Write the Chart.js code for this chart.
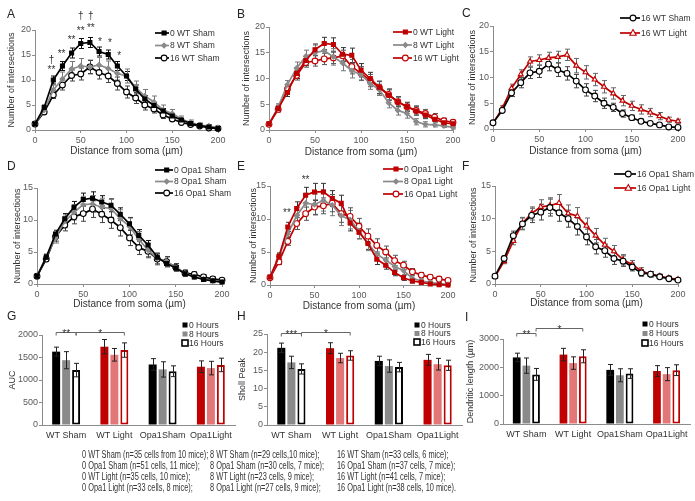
<!DOCTYPE html>
<html>
<head>
<meta charset="utf-8">
<script src="https://cdn.jsdelivr.net/npm/chart.js@4"></script>
<style>
body { margin: 0; background: #fff; }
#fig { position: relative; width: 695px; height: 501px; overflow: hidden; font-family: "Liberation Sans", Arial, sans-serif; }
#fig canvas { position: absolute; }
.lbl { position: absolute; font-size: 12px; line-height: 1; color: #222; }
#notes { position: absolute; left: 0; top: 440px; width: 695px; height: 61px; will-change: transform; }
.note { position: absolute; line-height: 1; color: #333; white-space: nowrap; }
</style>
</head>
<body>
<div id="fig"><div id="notes"></div></div>
<script>
// x values of the Sholl curves (µm)
const distance = [0, 10, 20, 30, 40, 50, 60, 70, 80, 90, 100, 110, 120, 130, 140, 150, 160, 170, 180, 190, 200];

// WT sham
const wtSham0 = [1.2, 4.5, 10.0, 12.8, 15.4, 17.3, 17.5, 15.7, 15.1, 12.8, 10.8, 8.2, 6.2, 4.9, 3.8, 2.8, 2.0, 1.3, 0.9, 0.6, 0.3];
const wtSham0Err = [0.2, 0.5, 0.8, 0.9, 1.0, 1.0, 1.0, 0.9, 0.9, 0.9, 0.9, 0.8, 0.7, 0.6, 0.5, 0.4, 0.3, 0.3, 0.2, 0.2, 0.1];
const wtSham8 = [1.2, 4.0, 8.0, 10.2, 12.2, 12.8, 12.6, 13.0, 12.3, 11.3, 10.8, 8.5, 6.8, 5.6, 4.0, 3.3, 2.2, 1.5, 1.0, 0.8, 0.5];
const wtSham8Err = [0.2, 0.6, 1.0, 1.4, 1.5, 1.5, 1.4, 1.5, 1.5, 1.3, 1.4, 1.3, 1.3, 1.2, 1.0, 0.8, 0.6, 0.5, 0.4, 0.3, 0.2];
const wtSham16 = [1.2, 3.6, 7.0, 9.0, 10.9, 11.2, 12.6, 11.5, 10.8, 9.3, 7.6, 6.4, 5.0, 4.2, 3.0, 2.2, 1.5, 1.1, 0.8, 0.4, 0.3];
const wtSham16Err = [0.2, 0.4, 0.7, 1.0, 1.1, 1.2, 1.3, 1.3, 1.3, 1.3, 1.2, 1.1, 1.0, 0.8, 0.7, 0.5, 0.4, 0.3, 0.2, 0.2, 0.1];

// WT light
const wtLight0 = [1.2, 4.2, 7.3, 11.0, 13.5, 15.6, 16.8, 16.6, 14.7, 14.5, 11.6, 10.0, 8.3, 6.8, 5.5, 4.5, 3.7, 2.9, 2.1, 1.4, 1.2];
const wtLight0Err = [0.2, 0.6, 0.8, 1.0, 1.0, 1.1, 1.2, 1.3, 1.3, 1.4, 1.3, 1.2, 1.2, 1.0, 0.9, 0.8, 0.8, 0.7, 0.5, 0.4, 0.3];
const wtLight8 = [1.2, 4.5, 8.8, 12.0, 14.3, 15.0, 15.4, 14.2, 13.0, 11.5, 10.8, 9.0, 7.8, 5.3, 3.8, 3.2, 1.6, 1.1, 1.0, 0.8, 0.5];
const wtLight8Err = [0.2, 0.6, 0.8, 1.2, 1.2, 1.5, 1.6, 1.6, 1.5, 1.4, 1.2, 1.1, 1.1, 1.0, 0.9, 0.9, 0.6, 0.5, 0.4, 0.3, 0.3];
const wtLight16 = [1.1, 4.0, 7.9, 10.6, 13.1, 13.4, 13.8, 14.0, 14.4, 12.3, 11.0, 9.6, 8.2, 6.9, 5.5, 4.5, 3.8, 3.2, 2.5, 1.8, 1.5];
const wtLight16Err = [0.2, 0.5, 0.8, 0.9, 0.9, 1.0, 1.1, 1.1, 1.1, 1.4, 1.3, 1.2, 1.2, 1.1, 1.0, 0.9, 0.9, 0.8, 0.7, 0.5, 0.4];

// Opa1 sham
const opaSham0 = [1.2, 4.2, 7.8, 10.2, 12.0, 13.2, 13.4, 12.8, 12.3, 10.9, 9.4, 7.6, 6.1, 4.2, 3.2, 2.5, 1.6, 1.1, 0.7, 0.5, 0.3];
const opaSham0Err = [0.2, 0.4, 0.6, 0.8, 0.9, 1.0, 1.0, 1.0, 1.0, 1.0, 1.0, 0.9, 0.7, 0.6, 0.5, 0.4, 0.3, 0.2, 0.2, 0.2, 0.1];
const opaSham8 = [1.2, 4.2, 7.2, 9.8, 11.2, 12.4, 12.5, 12.0, 11.8, 10.2, 9.0, 7.0, 5.3, 4.0, 3.5, 2.6, 1.7, 1.1, 0.8, 0.5, 0.3];
const opaSham8Err = [0.2, 0.5, 0.8, 1.0, 1.2, 1.3, 1.3, 1.4, 1.4, 1.4, 1.3, 1.2, 1.0, 0.8, 0.7, 0.6, 0.4, 0.3, 0.3, 0.2, 0.2];
const opaSham16 = [1.2, 3.9, 7.4, 9.2, 10.5, 11.0, 11.7, 10.9, 10.0, 8.8, 7.2, 5.7, 5.1, 3.9, 3.5, 2.6, 1.7, 1.5, 1.1, 0.8, 0.6];
const opaSham16Err = [0.2, 0.4, 0.7, 0.9, 1.1, 1.2, 1.3, 1.3, 1.3, 1.3, 1.2, 1.1, 1.0, 0.9, 0.8, 0.6, 0.5, 0.4, 0.3, 0.3, 0.2];

// Opa1 light
const opaLight0 = [1.2, 4.3, 8.8, 11.6, 13.6, 14.1, 14.1, 13.1, 12.4, 9.4, 8.0, 6.3, 3.9, 3.0, 1.9, 1.1, 0.6, 0.4, 0.15, 0.05, 0.0];
const opaLight0Err = [0.2, 0.5, 0.7, 1.0, 1.2, 1.3, 1.3, 1.2, 1.2, 1.2, 1.0, 0.9, 0.8, 0.6, 0.5, 0.4, 0.3, 0.2, 0.1, 0.1, 0.1];
const opaLight8 = [1.2, 4.3, 7.8, 10.5, 12.4, 12.2, 12.8, 12.1, 10.5, 9.9, 8.2, 6.3, 4.7, 3.8, 2.8, 2.2, 1.0, 0.6, 0.4, 0.2, 0.1];
const opaLight8Err = [0.2, 0.6, 1.0, 1.3, 1.5, 1.6, 1.6, 1.6, 1.5, 1.4, 1.2, 1.1, 0.9, 0.8, 0.7, 0.6, 0.4, 0.3, 0.2, 0.2, 0.1];
const opaLight16 = [1.1, 3.5, 6.6, 9.3, 10.8, 11.8, 12.0, 12.4, 10.8, 10.4, 8.9, 7.4, 6.0, 5.0, 3.7, 3.0, 2.0, 1.5, 1.2, 0.9, 0.7];
const opaLight16Err = [0.2, 0.4, 0.6, 0.9, 1.0, 1.1, 1.2, 1.3, 1.3, 1.3, 1.2, 1.1, 1.0, 0.9, 0.8, 0.6, 0.5, 0.4, 0.3, 0.3, 0.2];

// bar charts
const groups = ['WT Sham', 'WT Light', 'Opa1Sham', 'Opa1Light'];
const hours = ['0 Hours', '8 Hours', '16 Hours'];
const auc0 = [1630, 1740, 1345, 1295];
const auc8 = [1440, 1560, 1235, 1265];
const auc16 = [1220, 1665, 1195, 1335];
const auc0Err = [100, 160, 130, 130];
const auc8Err = [190, 140, 170, 150];
const auc16Err = [150, 160, 120, 150];
const peak0 = [21.2, 21.1, 17.6, 17.9];
const peak8 = [17.2, 18.4, 16.2, 16.7];
const peak16 = [15.4, 19.1, 15.9, 16.4];
const peak0Err = [1.3, 1.5, 1.3, 1.5];
const peak8Err = [1.7, 1.3, 1.7, 1.6];
const peak16Err = [1.4, 1.3, 1.3, 1.4];
const len0 = [2350, 2450, 1910, 1870];
const len8 = [2060, 2150, 1720, 1760];
const len16 = [1750, 2390, 1780, 1900];
const len0Err = [150, 220, 190, 190];
const len8Err = [270, 220, 230, 230];
const len16Err = [210, 230, 170, 190];

const noteRows = [
  ['0 WT Sham (n=35 cells from 10 mice);', '8 WT Sham (n=29 cells,10 mice);', '16 WT Sham (n=33 cells, 6 mice);'],
  ['0 Opa1 Sham (n=51 cells, 11 mice);', '8 Opa1 Sham (n=30 cells, 7 mice);', '16 Opa1 Sham (n=37 cells, 7 mice);'],
  ['0 WT Light (n=35 cells, 10 mice);', '8 WT Light (n=23 cells, 9 mice);', '16 WT Light (n=41 cells, 7 mice);'],
  ['0 Opa1 Light (n=33 cells, 8 mice);', '8 Opa1 Light (n=27 cells, 9 mice);', '16 Opa1 Light (n=38 cells, 10 mice).']
];

const BLACK = '#000000', GREY = '#8a8a8a', RED = '#c00000', PINK = '#e37676';
const AXIS = '#8c8c8c', TICK = '#595959';

Chart.defaults.font.family = '"Liberation Sans", Arial, sans-serif';
Chart.defaults.animation = false;

const fig = document.getElementById('fig');

function addCanvas(box) {
  var c = document.createElement('canvas');
  c.width = box.w; c.height = box.h;
  c.style.left = box.x + 'px'; c.style.top = box.y + 'px';
  fig.appendChild(c);
  return c;
}

function marker(ctx, style, x, y, r, fill, stroke, lw) {
  ctx.beginPath();
  if (style === 'circle') ctx.arc(x, y, r, 0, Math.PI * 2);
  else if (style === 'triangle') { ctx.moveTo(x, y - r * 1.2); ctx.lineTo(x + r * 1.1, y + r * 0.8); ctx.lineTo(x - r * 1.1, y + r * 0.8); ctx.closePath(); }
  else if (style === 'rectRot') { ctx.moveTo(x, y - r); ctx.lineTo(x + r, y); ctx.lineTo(x, y + r); ctx.lineTo(x - r, y); ctx.closePath(); }
  else { var h = r * 0.72; ctx.rect(x - h, y - h, 2 * h, 2 * h); }
  ctx.fillStyle = fill; ctx.fill();
  if (lw) { ctx.lineWidth = lw; ctx.strokeStyle = stroke; ctx.stroke(); }
}

const styles = {
  k0:  { color: BLACK, point: 'rect', r: 2.8, fill: BLACK, errColor: '#111' },
  g8:  { color: GREY, point: 'rectRot', r: 2.4, fill: GREY, errColor: '#777' },
  w16: { color: BLACK, point: 'circle', r: 2.9, fill: '#fff', errColor: '#444' },
  r0:  { color: RED, point: 'rect', r: 2.8, fill: RED, errColor: '#333' },
  rw:  { color: RED, point: 'circle', r: 2.9, fill: '#fff', errColor: '#555' },
  rt:  { color: RED, point: 'triangle', r: 2.9, fill: '#fff', errColor: '#666' }
};

function series(label, vals, err, key) {
  var s = styles[key];
  return {
    label: label,
    data: distance.map(function (d, i) { return { x: d, y: vals[i] }; }),
    err: err, errColor: s.errColor, mk: s,
    borderColor: s.color, borderWidth: 1.7, tension: 0, clip: false,
    pointStyle: s.point, pointRadius: s.r, pointBackgroundColor: s.fill,
    pointBorderColor: s.color, pointBorderWidth: 1.1
  };
}

function drawErrors(chart) {
  var ctx = chart.ctx, ys = chart.scales.y;
  chart.data.datasets.forEach(function (ds, di) {
    if (!ds.err) return;
    var meta = chart.getDatasetMeta(di);
    ctx.save();
    ctx.strokeStyle = ds.errColor || '#222';
    ctx.lineWidth = 1;
    meta.data.forEach(function (el, i) {
      var raw = ds.data[i], v = typeof raw === 'object' ? raw.y : raw, e = ds.err[i];
      var x = Math.round(el.x) + 0.5, y1 = ys.getPixelForValue(v + e), y2 = ys.getPixelForValue(Math.max(v - e, 0));
      var cap = 2.5;
      ctx.beginPath();
      ctx.moveTo(x, y1); ctx.lineTo(x, y2);
      ctx.moveTo(x - cap, y1); ctx.lineTo(x + cap, y1);
      ctx.moveTo(x - cap, y2); ctx.lineTo(x + cap, y2);
      ctx.stroke();
    });
    ctx.restore();
  });
}

function extras(cfg) {
  return {
    id: 'extras',
    beforeDatasetsDraw: function (chart) { if (!cfg.bars) drawErrors(chart); },
    afterDatasetsDraw: function (chart) { if (cfg.bars) drawErrors(chart); },
    afterDraw: function (chart) {
      var ctx = chart.ctx, xs = chart.scales.x, ys = chart.scales.y, ox = cfg.box.x, oy = cfg.box.y;
      ctx.save();
      ctx.textBaseline = 'middle';
      // line legend
      if (cfg.legend) {
        var L = cfg.legend;
        ctx.font = '8.5px "Liberation Sans", Arial, sans-serif';
        chart.data.datasets.forEach(function (ds, i) {
          var y = L.y + i * L.dy - oy, x = L.x - ox;
          ctx.strokeStyle = ds.borderColor; ctx.lineWidth = 1.7;
          ctx.beginPath(); ctx.moveTo(x, y); ctx.lineTo(x + L.len, y); ctx.stroke();
          marker(ctx, ds.mk.point, x + L.len * 0.65, y, ds.mk.r, ds.mk.fill, ds.mk.color, 1.1);
          ctx.fillStyle = '#333'; ctx.textAlign = 'left';
          ctx.fillText(ds.label, x + L.len + 1, y + 0.5);
        });
      }
      // bar legend
      if (cfg.barLegend) {
        var B = cfg.barLegend;
        ctx.font = '8.5px "Liberation Sans", Arial, sans-serif';
        hours.forEach(function (h, i) {
          var y = B.y + i * B.dy - oy, x = B.x - ox;
          if (i === 0) { ctx.fillStyle = BLACK; ctx.fillRect(x - 2.5, y - 2.5, 5, 5); }
          else if (i === 1) { ctx.fillStyle = GREY; ctx.fillRect(x - 2.5, y - 2.5, 5, 5); }
          else { ctx.strokeStyle = BLACK; ctx.lineWidth = 1.6; ctx.strokeRect(x - 3, y - 3, 6, 6); }
          ctx.fillStyle = '#333'; ctx.textAlign = 'left';
          ctx.fillText(h, x + 4, y + 0.5);
        });
      }
      // significance marks on curves
      (cfg.notes || []).forEach(function (n) {
        ctx.font = '10px "Liberation Sans", Arial, sans-serif';
        ctx.fillStyle = '#333'; ctx.textAlign = 'center';
        ctx.fillText(n.t, xs.getPixelForValue(n.x), ys.getPixelForValue(n.y));
      });
      // brackets on bar charts
      (cfg.brackets || []).forEach(function (b) {
        var xa = chart.getDatasetMeta(b.a[0]).data[b.a[1]].x, xb = chart.getDatasetMeta(b.b[0]).data[b.b[1]].x;
        var y = Math.round(ys.getPixelForValue(b.y)) + 0.5;
        ctx.strokeStyle = '#666'; ctx.lineWidth = 1;
        ctx.beginPath();
        ctx.moveTo(xa, y + 3); ctx.lineTo(xa, y); ctx.lineTo(xb, y); ctx.lineTo(xb, y + 3);
        ctx.stroke();
        ctx.font = '10px "Liberation Sans", Arial, sans-serif';
        ctx.fillStyle = '#333'; ctx.textAlign = 'center'; ctx.textBaseline = 'alphabetic';
        ctx.fillText(b.t, (xa + xb) / 2, y + 4);
        ctx.textBaseline = 'middle';
      });
      ctx.restore();
    }
  };
}

function yAxis(max, step, title, w) {
  return {
    min: 0, max: max,
    ticks: { stepSize: step, font: { size: 9 }, color: TICK, padding: 1, callback: function (v) { return String(v); } },
    grid: { drawOnChartArea: false, drawTicks: true, tickLength: 3, color: AXIS },
    border: { display: true, color: AXIS },
    title: { display: true, text: title, font: { size: 9 }, color: '#333', padding: 0 },
    afterFit: function (s) { s.width = w; s.paddingTop = 0; s.paddingBottom = 0; }
  };
}

function lineChart(p) {
  var box = p.box, area = p.area;
  var cfg = { box: box, legend: p.legend, notes: p.notes };
  new Chart(addCanvas(box), {
    type: 'line',
    data: { datasets: p.sets },
    options: {
      responsive: false,
      layout: { padding: { top: area.t - box.y, right: box.x + box.w - area.r, left: 0, bottom: 0 } },
      plugins: { legend: { display: false }, tooltip: { enabled: false } },
      scales: {
        x: {
          type: 'linear', min: 0, max: 200,
          ticks: { stepSize: 50, font: { size: 9 }, color: TICK, padding: 2 },
          grid: { drawOnChartArea: false, drawTicks: true, tickLength: 3, color: AXIS },
          border: { display: true, color: AXIS },
          title: { display: true, text: 'Distance from soma (µm)', font: { size: 10 }, color: '#333', padding: 0 },
          afterFit: function (s) { s.height = box.y + box.h - area.b; s.paddingLeft = 0; s.paddingRight = 0; }
        },
        y: yAxis(p.ymax, 5, 'Number of intersections', area.l - box.x)
      }
    },
    plugins: [extras(cfg)]
  });
}

function barSet(label, vals, err, fills, borders, bw) {
  return { label: label, data: vals, err: err, errColor: '#222', backgroundColor: fills, borderColor: borders, borderWidth: bw, borderSkipped: false };
}

function barChart(p) {
  var box = p.box, area = p.area;
  var cfg = { box: box, bars: true, barLegend: p.legend, brackets: p.brackets };
  new Chart(addCanvas(box), {
    type: 'bar',
    data: {
      labels: groups,
      datasets: [
        barSet(hours[0], p.v0, p.e0, [BLACK, RED, BLACK, RED], [BLACK, RED, BLACK, RED], 0),
        barSet(hours[1], p.v8, p.e8, [GREY, PINK, GREY, PINK], [GREY, PINK, GREY, PINK], 0),
        barSet(hours[2], p.v16, p.e16, '#ffffff', [BLACK, RED, BLACK, RED], 2)
      ]
    },
    options: {
      responsive: false,
      datasets: { bar: { categoryPercentage: 0.62, barPercentage: 0.8 } },
      layout: { padding: { top: area.t - box.y, right: box.x + box.w - area.r, left: 0, bottom: 0 } },
      plugins: { legend: { display: false }, tooltip: { enabled: false } },
      scales: {
        x: {
          ticks: { font: { size: 9 }, color: '#333', padding: 5, maxRotation: 0, minRotation: 0, autoSkip: false },
          grid: { display: false, drawTicks: false },
          border: { display: true, color: AXIS },
          afterFit: function (s) { s.height = box.y + box.h - area.b; s.paddingLeft = 0; s.paddingRight = 0; }
        },
        y: yAxis(p.ymax, p.step, p.title, area.l - box.x)
      }
    },
    plugins: [extras(cfg)]
  });
}

// row 1
lineChart({
  box: { x: 6, y: 0, w: 224, h: 157 }, area: { l: 35, t: 30, r: 218, b: 130 }, ymax: 20,
  legend: { x: 155, y: 33, dy: 12.5, len: 14 },
  sets: [series('0 WT Sham', wtSham0, wtSham0Err, 'k0'), series('8 WT Sham', wtSham8, wtSham8Err, 'g8'), series('16 WT Sham', wtSham16, wtSham16Err, 'w16')],
  notes: [{ x: 18, y: 14, t: '†' }, { x: 18, y: 12, t: '**' }, { x: 29, y: 15.2, t: '**' }, { x: 40, y: 18, t: '**' },
          { x: 50, y: 19.7, t: '**' }, { x: 50, y: 22.8, t: '†' }, { x: 61, y: 20.4, t: '**' }, { x: 61, y: 22.8, t: '†' },
          { x: 71, y: 17.5, t: '*' }, { x: 82, y: 17.3, t: '*' }, { x: 92, y: 14.8, t: '*' }]
});
lineChart({
  box: { x: 241, y: 0, w: 224, h: 158 }, area: { l: 269, t: 27, r: 453, b: 130 }, ymax: 20,
  legend: { x: 393, y: 32, dy: 13, len: 19 },
  sets: [series('0 WT Light', wtLight0, wtLight0Err, 'r0'), series('8 WT Light', wtLight8, wtLight8Err, 'g8'), series('16 WT Light', wtLight16, wtLight16Err, 'rw')]
});
lineChart({
  box: { x: 467, y: 0, w: 228, h: 157 }, area: { l: 493, t: 26, r: 678, b: 129 }, ymax: 20,
  legend: { x: 620, y: 18, dy: 15, len: 20 },
  sets: [series('16 WT Sham', wtSham16, wtSham16Err, 'w16'), series('16 WT Light', wtLight16, wtLight16Err, 'rt')]
});

// row 2
lineChart({
  box: { x: 12, y: 160, w: 223, h: 150 }, area: { l: 37, t: 188, r: 222, b: 284 }, ymax: 15,
  legend: { x: 155, y: 170, dy: 11.5, len: 18 },
  sets: [series('0 Opa1 Sham', opaSham0, opaSham0Err, 'k0'), series('8 Opa1 Sham', opaSham8, opaSham8Err, 'g8'), series('16 Opa1 Sham', opaSham16, opaSham16Err, 'w16')]
});
lineChart({
  box: { x: 248, y: 160, w: 216, h: 152 }, area: { l: 270, t: 186, r: 448, b: 285 }, ymax: 15,
  legend: { x: 383, y: 169, dy: 12.5, len: 20 },
  sets: [series('0 Opa1 Light', opaLight0, opaLight0Err, 'r0'), series('8 Opa1 Light', opaLight8, opaLight8Err, 'g8'), series('16 Opa1 Light', opaLight16, opaLight16Err, 'rw')],
  notes: [{ x: 19, y: 10.8, t: '**' }, { x: 40, y: 15.8, t: '**' }]
});
lineChart({
  box: { x: 468, y: 160, w: 227, h: 149 }, area: { l: 495, t: 186, r: 678, b: 284 }, ymax: 15,
  legend: { x: 614, y: 174, dy: 14, len: 22 },
  sets: [series('16 Opa1 Sham', opaSham16, opaSham16Err, 'w16'), series('16 Opa1 Light', opaLight16, opaLight16Err, 'rt')]
});

// row 3
barChart({
  box: { x: 7, y: 315, w: 233, h: 128 }, area: { l: 42, t: 335, r: 235, b: 425 },
  ymax: 2000, step: 500, title: 'AUC', legend: { x: 185, y: 325, dy: 9 },
  v0: auc0, v8: auc8, v16: auc16, e0: auc0Err, e8: auc8Err, e16: auc16Err,
  brackets: [{ a: [0, 0], b: [2, 0], y: 2060, t: '**' }, { a: [2, 0], b: [2, 1], y: 2060, t: '*' }]
});
barChart({
  box: { x: 237, y: 315, w: 229, h: 128 }, area: { l: 267, t: 334, r: 462, b: 425 },
  ymax: 25, step: 5, title: 'Sholl Peak', legend: { x: 417, y: 325, dy: 8.5 },
  v0: peak0, v8: peak8, v16: peak16, e0: peak0Err, e8: peak8Err, e16: peak16Err,
  brackets: [{ a: [0, 0], b: [2, 0], y: 25.3, t: '***' }, { a: [2, 0], b: [2, 1], y: 25.6, t: '*' }]
});
barChart({
  box: { x: 465, y: 315, w: 230, h: 127 }, area: { l: 503, t: 339, r: 690, b: 424 },
  ymax: 3000, step: 1000, title: 'Dendritic length (µm)', legend: { x: 645, y: 324, dy: 9.5 },
  v0: len0, v8: len8, v16: len16, e0: len0Err, e8: len8Err, e16: len16Err,
  brackets: [{ a: [0, 0], b: [2, 0], y: 3200, t: '**' }, { a: [2, 0], b: [2, 1], y: 3400, t: '*' }]
});

// panel letters
[['A', 7, 8], ['B', 237, 8], ['C', 462, 7], ['D', 7, 160], ['E', 237, 160], ['F', 462, 160], ['G', 7, 310], ['H', 237, 310], ['I', 465, 311]].forEach(function (l) {
  var d = document.createElement('div');
  d.className = 'lbl'; d.textContent = l[0];
  d.style.left = l[1] + 'px'; d.style.top = l[2] + 'px';
  fig.appendChild(d);
});

// sample sizes: narrow face if present, else squeeze the regular one
var probe = document.createElement('canvas').getContext('2d');
probe.font = '10px "Liberation Sans Narrow", monospace';
var wNarrow = probe.measureText(noteRows[0][0]).width;
probe.font = '10px monospace';
var hasNarrow = Math.abs(wNarrow - probe.measureText(noteRows[0][0]).width) > 1;
var notes = document.getElementById('notes');
var colX = [82, 210, 337];
noteRows.forEach(function (row, r) {
  row.forEach(function (t, c) {
    var d = document.createElement('div');
    d.className = 'note'; d.textContent = t;
    d.style.left = colX[c] + 'px'; d.style.top = (10 + r * 11) + 'px';
    if (hasNarrow) { d.style.fontFamily = '"Liberation Sans Narrow", sans-serif'; d.style.fontSize = '9.2px'; }
    else { d.style.fontSize = '10px'; d.style.transform = 'scaleX(0.74)'; d.style.transformOrigin = 'left center'; }
    notes.appendChild(d);
  });
});
</script>
</body>
</html>
